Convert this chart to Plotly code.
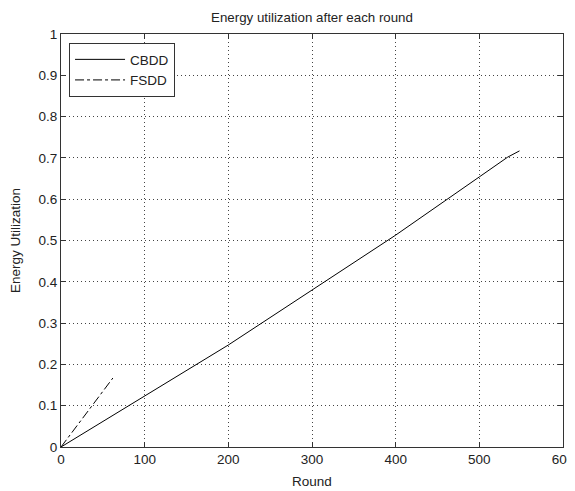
import plotly.graph_objects as go

cbdd_x = [0, 100, 200, 300, 400, 500, 534, 548]
cbdd_y = [0, 0.123, 0.247, 0.38, 0.513, 0.654, 0.702, 0.717]
fsdd_x = [0, 62]
fsdd_y = [0, 0.167]

x_ticks = [0, 100, 200, 300, 400, 500, 600]
y_ticks = [0, 0.1, 0.2, 0.3, 0.4, 0.5, 0.6, 0.7, 0.8, 0.9, 1]
y_labels = ["0", "0.1", "0.2", "0.3", "0.4", "0.5", "0.6", "0.7", "0.8", "0.9", "1"]

FONT = "Liberation Sans, Arial"

fig = go.Figure()
fig.add_trace(go.Scatter(x=cbdd_x, y=cbdd_y, mode="lines", name="CBDD",
                         line=dict(color="black", width=1)))
fig.add_trace(go.Scatter(x=fsdd_x, y=fsdd_y, mode="lines", name="FSDD",
                         line=dict(color="black", width=1, dash="dashdot")))

axis_common = dict(showline=True, linecolor="#333333", linewidth=1, mirror="ticks",
                   ticks="inside", ticklen=5, tickcolor="#333333",
                   showgrid=True, gridcolor="#444444", griddash="1px,3px", gridwidth=1,
                   zeroline=False, automargin=False,
                   tickfont=dict(family=FONT, size=13.5, color="#222222"))

fig.update_xaxes(range=[0, 600], tickvals=x_ticks, ticktext=[str(v) for v in x_ticks],
                 title=dict(text="Round", standoff=10,
                            font=dict(family=FONT, size=13.5, color="#222222")),
                 **axis_common)
fig.update_yaxes(range=[0, 1], tickvals=y_ticks, ticktext=y_labels,
                 title=dict(text="Energy Utilization", standoff=14,
                            font=dict(family=FONT, size=13.5, color="#222222")),
                 **axis_common)

fig.update_layout(
    width=567, height=483,
    margin=dict(l=53, r=12, t=26, b=44),
    paper_bgcolor="white", plot_bgcolor="white",
    title=dict(text="Energy utilization after each round", x=0.5, xanchor="center",
               xref="paper", y=0.99, yanchor="top",
               font=dict(family=FONT, size=13.3, color="#222222")),
    legend=dict(x=0.016, y=0.978, xanchor="left", yanchor="top",
                bordercolor="#333333", borderwidth=1, bgcolor="white",
                font=dict(family=FONT, size=13.5, color="#222222"),
                itemwidth=50, tracegroupgap=0),
    showlegend=True,
)

fig.write_html("out.html")
